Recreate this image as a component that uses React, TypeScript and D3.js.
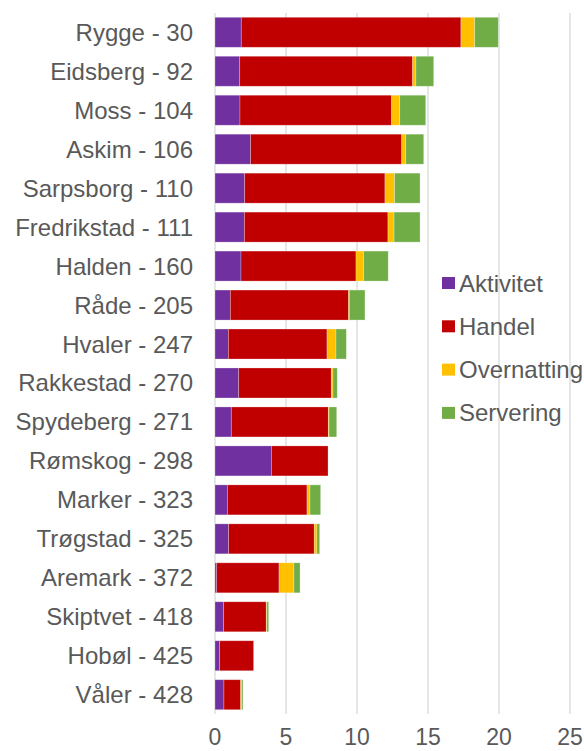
import * as d3 from 'd3';

const kommuner = [
  'Rygge - 30', 'Eidsberg - 92', 'Moss - 104', 'Askim - 106', 'Sarpsborg - 110',
  'Fredrikstad - 111', 'Halden - 160', 'Råde - 205', 'Hvaler - 247', 'Rakkestad - 270',
  'Spydeberg - 271', 'Rømskog - 298', 'Marker - 323', 'Trøgstad - 325', 'Aremark - 372',
  'Skiptvet - 418', 'Hobøl - 425', 'Våler - 428',
];

const aktivitet = [1.85, 1.74, 1.76, 2.51, 2.09, 2.07, 1.83, 1.08, 0.94, 1.67, 1.15, 3.97, 0.87, 0.96, 0.12, 0.61, 0.33, 0.63];
const handel = [15.47, 12.18, 10.68, 10.64, 9.88, 10.11, 8.1, 8.33, 6.95, 6.52, 6.83, 3.99, 5.61, 6.03, 4.39, 3.0, 2.39, 1.18];
const overnatting = [0.97, 0.23, 0.57, 0.28, 0.68, 0.43, 0.54, 0.05, 0.63, 0.12, 0.05, 0, 0.21, 0.19, 1.05, 0.04, 0, 0.07];
const servering = [1.66, 1.25, 1.83, 1.27, 1.79, 1.83, 1.73, 1.1, 0.73, 0.3, 0.54, 0, 0.75, 0.19, 0.43, 0.13, 0, 0.09];

const serier = ['Aktivitet', 'Handel', 'Overnatting', 'Servering'];
const farger = ['#7030A0', '#C00000', '#FFC000', '#70AD47'];
const xTicks = [0, 5, 10, 15, 20, 25];

const W = 584;
const H = 751;
const font = '"Liberation Sans", Arial, sans-serif';

export default function App() {
  const rows = kommuner.map((k, i) => ({
    kommune: k,
    Aktivitet: aktivitet[i],
    Handel: handel[i],
    Overnatting: overnatting[i],
    Servering: servering[i],
  }));

  const stack = d3.stack<any>().keys(serier);
  const layers = stack(rows);

  const x = d3.scaleLinear().domain([0, 25]).range([215, 570]);
  const y = d3.scaleBand().domain(kommuner).range([12.8, 714.2]).paddingInner(0.23).paddingOuter(0.115);

  return (
    <svg width={W} height={H} style={{ position: 'absolute', left: 0, top: 0 }} fontFamily={font}>
      {/* gridlines */}
      {xTicks.map((t) => (
        <line key={t} x1={x(t)} x2={x(t)} y1={13} y2={714} stroke="#D9D9D9" strokeWidth={1.3} />
      ))}

      {/* bars */}
      {layers.map((layer, li) => (
        <g key={layer.key} fill={farger[li]}>
          {layer.map((d, i) =>
            d[1] - d[0] > 0 ? (
              <rect
                key={i}
                x={x(d[0])}
                y={y(kommuner[i])}
                width={x(d[1]) - x(d[0])}
                height={y.bandwidth()}
                stroke="#ffffff"
                strokeOpacity={0.35}
                strokeWidth={0.75}
              />
            ) : null
          )}
        </g>
      ))}

      {/* category labels */}
      {kommuner.map((k) => (
        <text
          key={k}
          x={193}
          y={(y(k) ?? 0) + y.bandwidth() / 2}
          textAnchor="end"
          dominantBaseline="central"
          fontSize={24}
          fill="#595959"
        >
          {k}
        </text>
      ))}

      {/* x tick labels */}
      {xTicks.map((t) => (
        <text key={t} x={x(t)} y={745} textAnchor="middle" fontSize={23} fill="#595959">
          {t}
        </text>
      ))}

      {/* legend */}
      {serier.map((s, i) => (
        <g key={s} transform={`translate(442, ${283 + i * 43.3})`}>
          <rect x={0} y={-6} width={13} height={12} fill={farger[i]} />
          <text x={17} y={0} dominantBaseline="central" fontSize={24} fill="#595959">
            {s}
          </text>
        </g>
      ))}
    </svg>
  );
}
